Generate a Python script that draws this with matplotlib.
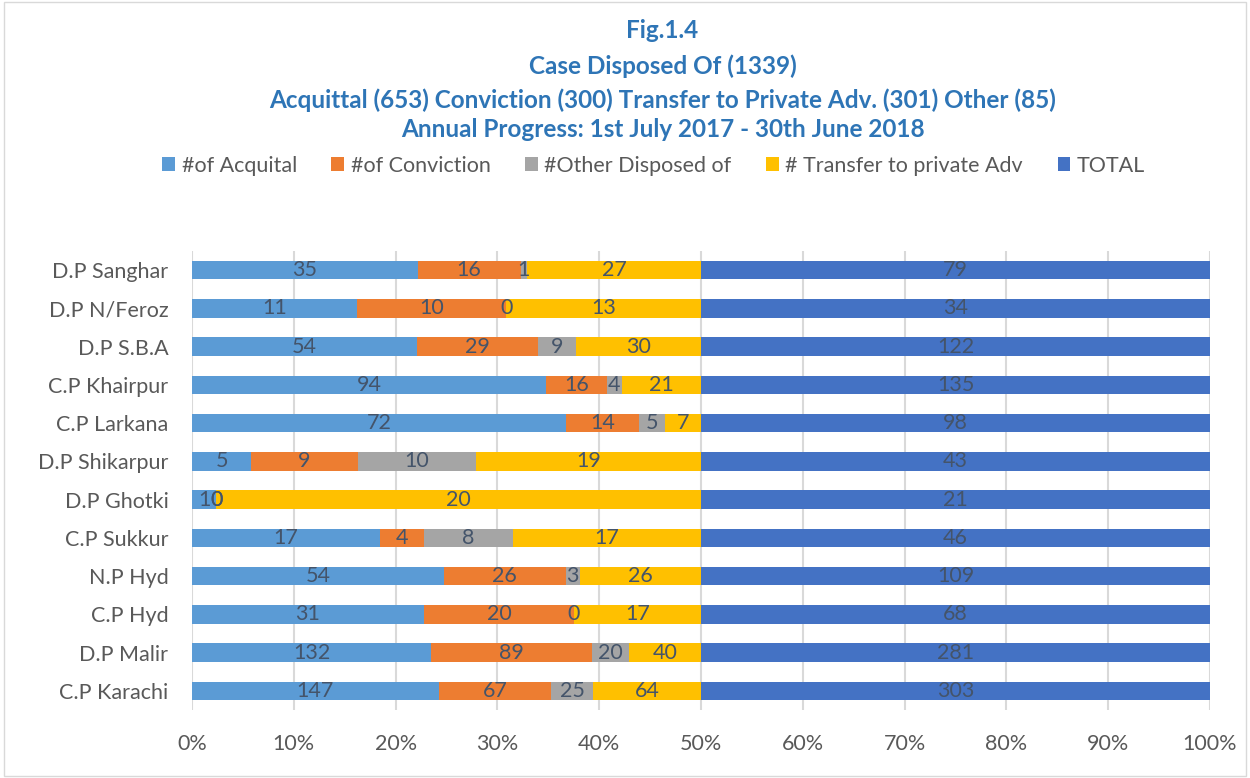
import matplotlib
matplotlib.use("Agg")
from matplotlib import pyplot as plt
from matplotlib.patches import Rectangle
import numpy as np

plt.rcParams['font.family'] = ['Lato', 'DejaVu Sans']

# bottom to top, as drawn on the axis
districts = ['C.P Karachi', 'D.P Malir', 'C.P Hyd', 'N.P Hyd', 'C.P Sukkur',
             'D.P Ghotki', 'D.P Shikarpur', 'C.P Larkana', 'C.P Khairpur',
             'D.P S.B.A', 'D.P N/Feroz', 'D.P Sanghar']
acquital = [147, 132, 31, 54, 17, 1, 5, 72, 94, 54, 11, 35]
conviction = [67, 89, 20, 26, 4, 0, 9, 14, 16, 29, 10, 16]
other = [25, 20, 0, 3, 8, 0, 10, 5, 4, 9, 0, 1]
transfer = [64, 40, 17, 26, 17, 20, 19, 7, 21, 30, 13, 27]
total = [303, 281, 68, 109, 46, 21, 43, 98, 135, 122, 34, 79]

series_names = ['#of Acquital', '#of Conviction', '#Other Disposed of',
                '# Transfer to private Adv', 'TOTAL']
series_colors = ['#5B9BD5', '#ED7D31', '#A5A5A5', '#FFC000', '#4472C4']

title_lines = ['Fig.1.4',
               'Case Disposed Of (1339)',
               'Acquittal (653) Conviction (300) Transfer to Private Adv. (301) Other (85)',
               'Annual Progress: 1st July 2017 - 30th June 2018']

series = [acquital, conviction, other, transfer, total]
vals = np.array(series, dtype=float)
sums = vals.sum(axis=0)
pct = vals / sums * 100

fig = plt.figure(figsize=(12.5, 7.78), dpi=100)
ax = fig.add_axes([0.1536, 0.0874, 0.8144, 0.59])

y = np.arange(len(districts))
left = np.zeros(len(districts))
text_col = '#44546A'
for i, (name, col) in enumerate(zip(series_names, series_colors)):
    ax.barh(y, pct[i], left=left, height=0.48, color=col, label=name, zorder=3)
    for j in range(len(districts)):
        ax.text(left[j] + pct[i][j] / 2, y[j], str(series[i][j]),
                ha='center', va='center', fontsize=15.5, color=text_col, zorder=4)
    left += pct[i]

ax.set_xlim(0, 100)
ax.set_ylim(-0.5, len(districts) - 0.5)
ax.set_xticks(np.arange(0, 101, 10))
ax.set_xticklabels([f'{t}%' for t in range(0, 101, 10)])
ax.set_yticks(y)
ax.set_yticklabels(districts)
ax.tick_params(axis='both', length=0, labelsize=15.5, labelcolor='#595959')
ax.tick_params(axis='x', pad=17)
ax.tick_params(axis='y', pad=17)
ax.grid(axis='x', color='#D9D9D9', linewidth=1.5, zorder=0)
for s in ax.spines.values():
    s.set_visible(False)

ys = [0.961, 0.915, 0.871, 0.834]
for t, yy in zip(title_lines, ys):
    fig.text(0.53, yy, t, ha='center', va='center', fontsize=17.5,
             fontweight='bold', color='#2E75B6')

handles, labels = ax.get_legend_handles_labels()
fig.legend(handles, labels, loc='center', bbox_to_anchor=(0.523, 0.787), ncol=5,
           frameon=False, fontsize=15.5, handlelength=0.6, handleheight=0.6,
           handletextpad=0.3, columnspacing=1.6, labelcolor='#595959')

fig.patches.append(Rectangle((0.003, 0.003), 0.994, 0.994, transform=fig.transFigure,
                             fill=False, edgecolor='#D9D9D9', linewidth=1))

plt.savefig('out.png', dpi=100)
